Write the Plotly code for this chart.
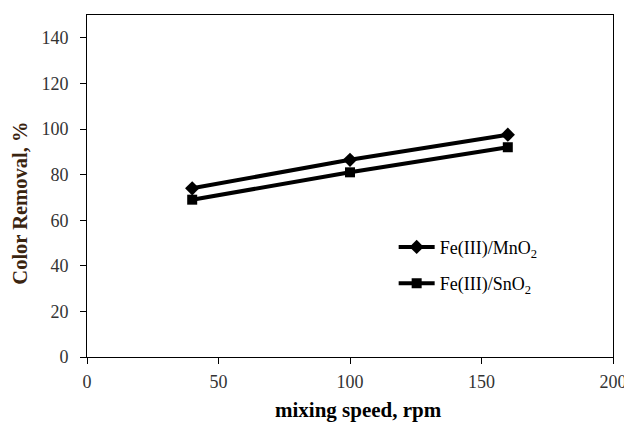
import plotly.graph_objects as go

# Mixing speed (rpm) and colour removal (%) for the two catalysts
speed = [40, 100, 160]
mno2_removal = [74, 86.5, 97.5]
sno2_removal = [69, 81, 92]

x_ticks = [0, 50, 100, 150, 200]
y_ticks = [0, 20, 40, 60, 80, 100, 120, 140]

serif = "Liberation Serif, Times New Roman, serif"

fig = go.Figure()
fig.add_trace(go.Scatter(
    x=speed, y=mno2_removal, mode="lines+markers",
    name="Fe(III)/MnO<sub>2</sub>", legendgroup="a",
    line=dict(color="black", width=4),
    marker=dict(symbol="diamond", size=11, color="black"),
))
fig.add_trace(go.Scatter(
    x=speed, y=sno2_removal, mode="lines+markers",
    name="Fe(III)/SnO<sub>2</sub>", legendgroup="b",
    line=dict(color="black", width=4),
    marker=dict(symbol="square", size=10, color="black"),
))

axis_common = dict(
    showgrid=False, zeroline=False, showline=True, mirror=True,
    linecolor="black", linewidth=1, ticks="outside", ticklen=6,
    tickcolor="black", automargin=False, ticklabeloverflow="allow",
    tickfont=dict(family=serif, size=18, color="#333333"),
)

fig.update_layout(
    width=624, height=423,
    margin=dict(l=87, r=11, t=15, b=66),
    paper_bgcolor="white", plot_bgcolor="white",
    xaxis=dict(range=[0, 200], tickvals=x_ticks, ticklabelstandoff=2, **axis_common),
    yaxis=dict(range=[0, 150], tickvals=y_ticks, ticklabelstandoff=8, **axis_common),
    legend=dict(x=0.583, y=0.375, xanchor="left", yanchor="top",
                font=dict(family=serif, size=18, color="black"),
                bgcolor="rgba(0,0,0,0)", tracegroupgap=10, itemwidth=36),
    showlegend=True,
    annotations=[
        dict(text="<b>mixing speed, rpm</b>", xref="paper", yref="paper",
             x=0.517, y=-0.155, xanchor="center", yanchor="middle",
             showarrow=False, font=dict(family=serif, size=21, color="black")),
        dict(text="<b>Color Removal, %</b>", xref="paper", yref="paper",
             x=-0.127, y=0.449, xanchor="center", yanchor="middle", textangle=-90,
             showarrow=False, font=dict(family=serif, size=20.5, color="#3a2410")),
    ],
)

fig.write_html("out.html")
